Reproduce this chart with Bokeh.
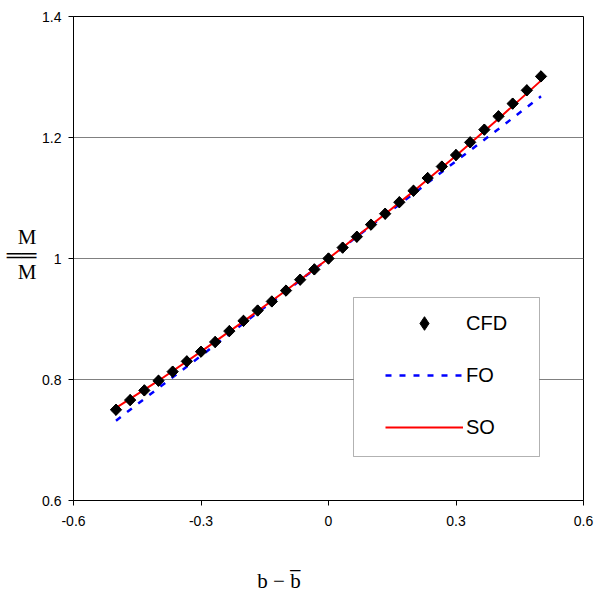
import math
from bokeh.plotting import figure
from bokeh.models import (Range1d, FixedTicker, CustomJSTickFormatter, Legend,
                          BoxAnnotation, LinearAxis, AllLabels)
from bokeh.embed import file_html
from bokeh.resources import INLINE

# ---- data ----
cfd_x = [-0.5 + i / 30 for i in range(31)]
cfd_y = [0.750, 0.766, 0.782, 0.798, 0.813, 0.830, 0.846, 0.862, 0.880, 0.897,
         0.914, 0.929, 0.947, 0.965, 0.982, 1.000, 1.018, 1.036, 1.056, 1.074,
         1.093, 1.112, 1.133, 1.152, 1.171, 1.192, 1.213, 1.235, 1.256, 1.278,
         1.301]

line_x = [-0.5, -0.4, -0.3, -0.2, -0.1, 0.0, 0.1, 0.2, 0.3, 0.4, 0.5]
fo_y = [0.732, 0.786, 0.839, 0.893, 0.946, 1.000, 1.054, 1.107, 1.161, 1.214, 1.268]
so_y = [0.753, 0.798, 0.846, 0.896, 0.947, 1.000, 1.055, 1.111, 1.170, 1.231, 1.294]

x_ticks = [-0.6, -0.3, 0.0, 0.3, 0.6]
y_ticks = [0.6, 0.8, 1.0, 1.2, 1.4]

x_title = "b \u2212 b\u0305"
y_title_parts = ["M", "\u2550\u2550", "M"]   # numerator, double bar, barred denominator

# ---- figure ----
p = figure(width=601, height=595, output_backend="svg", toolbar_location=None,
           x_range=Range1d(-0.6, 0.6), y_range=Range1d(0.6, 1.4),
           min_border_left=73, min_border_right=18, min_border_top=16,
           min_border_bottom=95)
p.background_fill_color = "white"
p.border_fill_color = "white"
p.outline_line_color = "black"
p.outline_line_width = 1

p.xgrid.visible = False
p.ygrid.grid_line_color = "#808080"
p.ygrid.grid_line_width = 1

fmt = CustomJSTickFormatter(code="""
    let s = tick.toFixed(1);
    if (s.endsWith('.0')) s = s.slice(0, -2);
    if (s === '-0') s = '0';
    return s;
""")
for ax, ticks, standoff in ((p.xaxis[0], x_ticks, 10), (p.yaxis[0], y_ticks, 7)):
    ax.ticker = FixedTicker(ticks=ticks)
    ax.formatter = fmt
    ax.axis_line_color = "black"
    ax.major_tick_line_color = "black"
    ax.major_tick_out = 5
    ax.major_tick_in = 0
    ax.minor_tick_line_color = None
    ax.major_label_text_font = "Liberation Sans"
    ax.major_label_text_font_size = "14px"
    ax.major_label_text_color = "black"
    ax.major_label_standoff = standoff

# ---- page pixel -> data coordinate helpers (annotation placement only) ----
def px2x(px):
    return -0.6 + (px - 73) / 425.0

def py2y(py):
    return 0.6 + (500 - py) / 605.0

# ---- axis titles drawn as extra, line-less axes ----
def title_axis(ticks, labels, standoff):
    ax = LinearAxis(ticker=FixedTicker(ticks=ticks),
                    formatter=CustomJSTickFormatter(
                        args=dict(labels=labels),
                        code="return labels[index];"),
                    major_label_policy=AllLabels())
    ax.axis_line_color = None
    ax.major_tick_line_color = None
    ax.minor_tick_line_color = None
    ax.major_tick_out = 0
    ax.major_tick_in = 0
    ax.major_label_standoff = standoff
    ax.major_label_text_font = "Liberation Serif"
    ax.major_label_text_font_size = "21px"
    ax.major_label_text_color = "black"
    return ax

p.add_layout(title_axis([px2x(278.5)], [x_title], 40), "below")
p.add_layout(title_axis([py2y(271.5), py2y(254), py2y(236.5)],
                        y_title_parts, 3), "left")

# ---- data marks ----
r_fo = p.line(line_x, fo_y, line_color="#0000FF", line_width=2.5, line_dash="6 8")
r_so = p.line(line_x, so_y, line_color="#FF0000", line_width=2)
# CFD points: narrow diamond (used as legend swatch) under rotated squares
r_cfd_key = p.scatter(cfd_x, cfd_y, marker="diamond", size=11,
                      fill_color="black", line_color="black")
r_cfd = p.scatter(cfd_x, cfd_y, marker="square", size=8, angle=math.pi / 4,
                  fill_color="black", line_color="black")

# ---- legend ----
p.add_layout(BoxAnnotation(left=px2x(353), right=px2x(539), top=py2y(297),
                           bottom=py2y(456), fill_color="white", fill_alpha=1.0,
                           line_color="black", line_width=1))
legend = Legend(items=[("CFD", [r_cfd_key]), ("FO", [r_fo]), ("SO", [r_so])],
                location=(312, 56), padding=0, spacing=18, margin=0,
                glyph_width=78, glyph_height=34, label_height=34,
                label_standoff=3, border_line_color=None,
                background_fill_alpha=0.0,
                label_text_font="Liberation Sans", label_text_font_size="20px",
                label_text_color="black")
p.add_layout(legend)

open("out.html", "w").write(file_html(p, INLINE))
